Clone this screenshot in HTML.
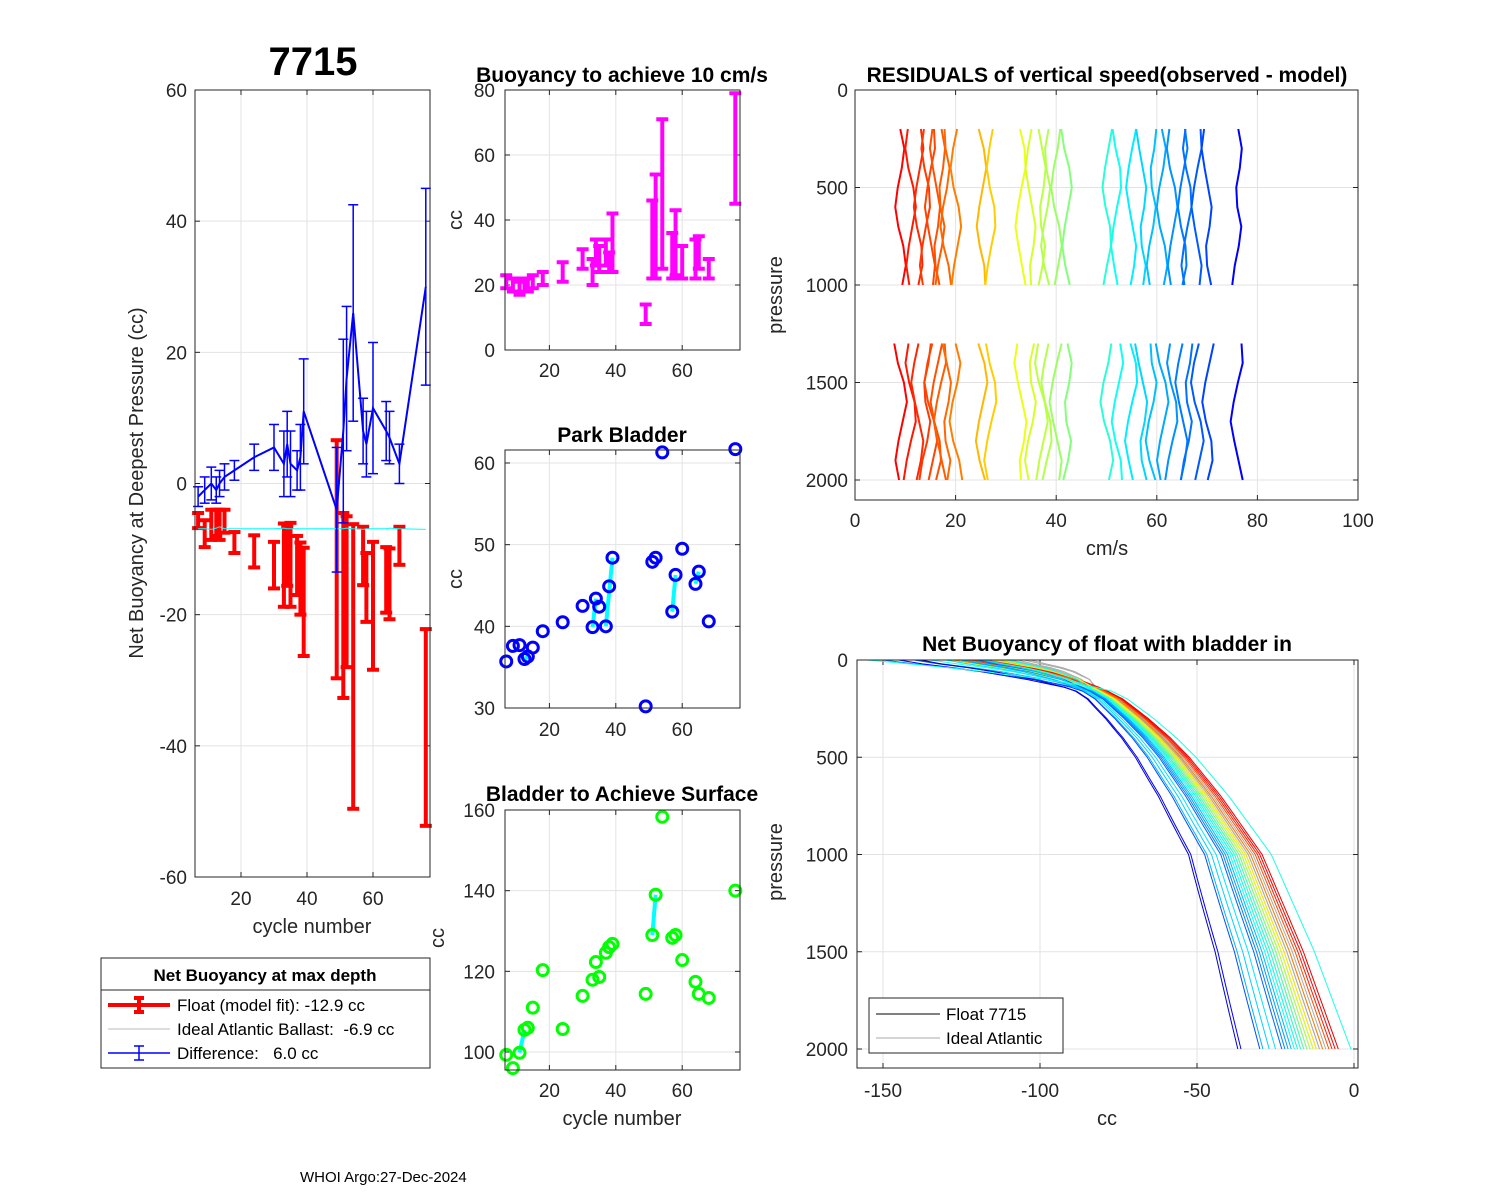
<!DOCTYPE html>
<html><head><meta charset="utf-8"><style>
html,body{margin:0;padding:0;background:#fff;}
svg{display:block;font-family:"Liberation Sans",Arial,sans-serif;}
</style></head><body>
<svg id="fig" width="1500" height="1200" viewBox="0 0 1500 1200" xmlns="http://www.w3.org/2000/svg">
<rect width="1500" height="1200" fill="#fff"/>
<text x="313" y="75" font-size="40" font-weight="bold" text-anchor="middle">7715</text>
<text x="622" y="82" font-size="21" font-weight="bold" text-anchor="middle">Buoyancy to achieve 10 cm/s</text>
<text x="622" y="442" font-size="21" font-weight="bold" text-anchor="middle">Park Bladder</text>
<text x="622" y="801" font-size="21" font-weight="bold" text-anchor="middle">Bladder to Achieve Surface</text>
<text x="1107" y="82" font-size="21" font-weight="bold" text-anchor="middle">RESIDUALS of vertical speed(observed - model)</text>
<text x="1107" y="651" font-size="21" font-weight="bold" text-anchor="middle">Net Buoyancy of float with bladder in</text>
<text x="300" y="1182" font-size="15">WHOI Argo:27-Dec-2024</text>
<g id="layer"></g>
</svg>
<script>
// ---- data ----
const cycles = [7,9,11,12.5,13.5,15,18,24,30,33,34,35,37,38,39,49,51,52,54,57,58,60,64,65,68,76];
const redHi = [-4.5,-5.6,-4,-4,-4,-4,-7.4,-7.9,-8.9,-6.1,-6.6,-6,-8,-9,-9.8,6.6,-4.5,-5,-6.2,-6.6,-10.6,-8.9,-9.7,-9.9,-6.6,-22.2];
const redLo = [-6.8,-9.7,-8.6,-8,-8.6,-7.5,-10.6,-12.8,-16,-18.8,-15.6,-18.8,-17,-20,-26.3,-29.7,-32.7,-28,-49.6,-15.5,-21.1,-28.4,-19.7,-20.7,-12.4,-52.2];
const idealVals = [-6.9,-6.9,-7,-6.8,-6.6,-6.9,-6.9,-6.9,-6.9,-6.8,-6.9,-6.9,-6.9,-6.9,-6.9,-6.9,-6.9,-6.8,-6.9,-7,-6.9,-6.9,-6.9,-6.8,-6.9,-7];
const diffVals = [-2,-1,0,-1,0,1,2,4,5.5,3,6,3,2,4,11,-4,8,16,26,8,6,11.5,8,7,3,30];
const diffErr = [1.5,2,2.5,2,2,2,1.5,2,3.5,5,5,5,3,5,8,9.5,14,11,16.5,5,5,10,4.5,4,3,15];
const buoyVals = [21,20,19,20,20,21,22,24,28,24,30,28,30,27,33,11,34,38,48,29,33,27,28,30,25,62];
const buoyErr = [2,2,2,2,2,2,2,3,3,4,4,4,4,3,9,3,12,16,23,7,10,5,6,5,3,17];
const parkVals = [35.7,37.6,37.7,36,36.3,37.4,39.4,40.5,42.5,39.9,43.4,42.4,40,44.9,48.4,30.2,47.9,48.4,61.3,41.8,46.3,49.5,45.2,46.7,40.6,61.7];
const parkLinks = [[3,4],[9,10],[12,14],[19,20],[22,23]];
const surfVals = [99.3,96,99.8,105.5,106,111,120.3,105.7,113.9,117.9,122.3,118.6,124.6,126,126.8,114.4,129,139,158.3,128.3,129,122.8,117.4,114.4,113.4,140];
const surfLinks = [[2,3],[16,17]];
const resSpeeds = [9,11,12.5,14,15,16,17,18,20,25,27,33,35,37,38,40,42,50,52,55,57,59,61,63,65,66,68,70,76];
const resWiggle = [0,0.8,0.3,-0.5,-1.0,-0.4,0.6,1.1,0.4,-0.3,-0.8,-0.2,0.7,0.9,0.1,-0.6,-1.1,-0.5,0.2,0.9,0.5,-0.2];
const nbEnds = [-6,-5,-7,-8,-10,-12,-13,-14,-15,-16,-17,-18,-19,-20,-21,-22,-23,-25,-27,-29,-30,-37,-36,-1];
const nbColorT = [0.88,0.9,0.85,0.8,0.75,0.65,0.6,0.55,0.5,0.45,0.42,0.4,0.38,0.3,0.28,0.25,0.22,0.35,0.33,0.3,0.2,0.08,0.12,0.4];
const nbStart = [-125,-120,-118,-122,-128,-115,-130,-112,-125,-120,-135,-118,-110,-140,-125,-150,-120,-130,-118,-125,-140,-138,-145,-155];
const idealEnds = [-9,-10,-11,-12,-13,-14,-15,-16,-17,-18,-11,-13];
const tmplP = [0,50,100,150,200,300,400,500,700,1000,1500,2000];
const tmplX = [-120,-100,-88,-80,-74,-66,-59,-53,-43,-30,-17,-6];

// ---- helpers ----
const NS = "http://www.w3.org/2000/svg";
const layer = document.getElementById('layer');
function el(tag, attrs, parent){ const e=document.createElementNS(NS,tag); for(const k in attrs) e.setAttribute(k,attrs[k]); (parent||layer).appendChild(e); return e; }
function lin(d0,d1,r0,r1){ return v=> r0+(v-d0)*(r1-r0)/(d1-d0); }
function jet(t){ t=Math.max(0,Math.min(1,t)); const r=Math.max(0,Math.min(1,1.5-Math.abs(4*t-3))), g=Math.max(0,Math.min(1,1.5-Math.abs(4*t-2))), b=Math.max(0,Math.min(1,1.5-Math.abs(4*t-1))); return `rgb(${Math.round(r*255)},${Math.round(g*255)},${Math.round(b*255)})`; }

function axes(name, x0,y0,x1,y1, sx, sy, xt, yt, xfmt, yfmt, labY, labX){
  const g = el('g',{});
  
  
  xt.forEach(v=>{ const x=sx(v); el('line',{x1:x,y1:y0,x2:x,y2:y1,stroke:'#e3e3e3','stroke-width':1},g);
    el('line',{x1:x,y1:y1,x2:x,y2:y1-5,stroke:'#262626'},g); el('line',{x1:x,y1:y0,x2:x,y2:y0+5,stroke:'#262626'},g);
    const t=el('text',{x:x,y:labY,'font-size':19,'text-anchor':'middle',fill:'#262626'},g); t.textContent=xfmt(v);
      });
  yt.forEach(v=>{ const y=sy(v); el('line',{x1:x0,y1:y,x2:x1,y2:y,stroke:'#e3e3e3'},g);
    el('line',{x1:x0,y1:y,x2:x0+5,y2:y,stroke:'#262626'},g); el('line',{x1:x1,y1:y,x2:x1-5,y2:y,stroke:'#262626'},g);
    const t=el('text',{x:labX,y:y+7,'font-size':19,'text-anchor':'end',fill:'#262626'},g); t.textContent=yfmt(v);
      });
  return g;
}
function box(x0,y0,x1,y1){ const r=el('rect',{x:x0,y:y0,width:x1-x0,height:y1-y0,fill:'none',stroke:'#262626','stroke-width':1});   }
function label(txt,x,y,rot,name){ const t=el('text',{x:x,y:y,'font-size':20,'text-anchor':'middle',fill:'#262626',transform:rot?`rotate(-90 ${x} ${y})`:''}); t.textContent=txt;   }
function ebar(x,yHi,yLo,col,w,cap,name){ const g=el('g',{stroke:col,'stroke-width':w});
   
  el('line',{x1:x,y1:yHi,x2:x,y2:yLo},g); el('line',{x1:x-cap,y1:yHi,x2:x+cap,y2:yHi},g); el('line',{x1:x-cap,y1:yLo,x2:x+cap,y2:yLo},g); }
const id = v=>String(v);

// ---- Panel 1 ----
const p1x = lin(0,100,175,505), p1y = lin(0,60,483.5,90);
axes('net-buoyancy-axes',195,90,430,877,p1x,p1y,[20,40,60],[60,40,20,0,-20,-40,-60],id,id,905,187);
cycles.forEach((c,i)=>ebar(p1x(c),p1y(redHi[i]),p1y(redLo[i]),'#ff0000',4,6,'float-errorbar'));
{ const pl=el('polyline',{points:cycles.map((c,i)=>p1x(c)+','+p1y(idealVals[i])).join(' '),fill:'none',stroke:'#00ffff','stroke-width':1});
    }
cycles.forEach((c,i)=>ebar(p1x(c),p1y(diffVals[i]+diffErr[i]),p1y(diffVals[i]-diffErr[i]),'#0000ff',1.5,5,'difference-errorbar'));
{ const pl=el('polyline',{points:cycles.map((c,i)=>p1x(c)+','+p1y(diffVals[i])).join(' '),fill:'none',stroke:'#0000ff','stroke-width':2});
    }
box(195,90,430,877);
label('cycle number',312,933,false,'x-axis-title');
label('Net Buoyancy at Deepest Pressure (cc)',143,483,true,'y-axis-title');

// legend 1
{ const g=el('g',{});  
  el('rect',{x:101,y:958,width:329,height:110,fill:'#fff',stroke:'#262626'},g);
  el('line',{x1:101,y1:990,x2:430,y2:990,stroke:'#262626'},g);
  const t=el('text',{x:265,y:981,'font-size':17,'font-weight':'bold','text-anchor':'middle'},g); t.textContent='Net Buoyancy at max depth';
  const rows=[['Float (model fit): -12.9 cc','#ff0000',4,1005],['Ideal Atlantic Ballast:  -6.9 cc','#bbbbbb',1,1029],['Difference:   6.0 cc','#0000ff',1.5,1053]];
  rows.forEach(r=>{ const e=el('g',{},g);  
    el('line',{x1:108,y1:r[3],x2:170,y2:r[3],stroke:r[1],'stroke-width':r[2]},e);
    if(r[2]!==1){ el('line',{x1:139,y1:r[3]-7,x2:139,y2:r[3]+7,stroke:r[1],'stroke-width':r[2]},e); el('line',{x1:134,y1:r[3]-7,x2:144,y2:r[3]-7,stroke:r[1],'stroke-width':r[2]},e); el('line',{x1:134,y1:r[3]+7,x2:144,y2:r[3]+7,stroke:r[1],'stroke-width':r[2]},e);}
    const tt=el('text',{x:177,y:r[3]+6,'font-size':17,'xml:space':'preserve'},e); tt.textContent=r[0]; tt.setAttribute('style','white-space:pre'); });
}

// ---- Panel 2 ----
const px = lin(0,100,483,815);
const p2y = lin(0,80,350,90);
axes('buoyancy-axes',505,90,740,350,px,p2y,[20,40,60],[0,20,40,60,80],id,id,377,495);
cycles.forEach((c,i)=>ebar(px(c),p2y(buoyVals[i]+buoyErr[i]),p2y(buoyVals[i]-buoyErr[i]),'#ff00ff',4,6,'buoyancy-errorbar'));
box(505,90,740,350);
label('cc',462,220,true,'y-axis-title');

// ---- Panel 3 ----
const p3y = lin(30,60,708,463);
axes('park-bladder-axes',505,450,740,708,px,p3y,[20,40,60],[30,40,50,60],id,id,736,495);
parkLinks.forEach(l=>{ const e=el('line',{x1:px(cycles[l[0]]),y1:p3y(parkVals[l[0]]),x2:px(cycles[l[1]]),y2:p3y(parkVals[l[1]]),stroke:'#00ffff','stroke-width':4});
    });
cycles.forEach((c,i)=>{ const e=el('circle',{cx:px(c),cy:p3y(parkVals[i]),r:5.5,fill:'none',stroke:'#0000ff','stroke-width':3});
    });
box(505,450,740,708);
label('cc',462,579,true,'y-axis-title');

// ---- Panel 4 ----
const p4y = lin(100,160,1052,810);
axes('surface-bladder-axes',505,810,740,1070,px,p4y,[20,40,60],[100,120,140,160],id,id,1097,495);
surfLinks.forEach(l=>{ const e=el('line',{x1:px(cycles[l[0]]),y1:p4y(surfVals[l[0]]),x2:px(cycles[l[1]]),y2:p4y(surfVals[l[1]]),stroke:'#00ffff','stroke-width':4});
    });
cycles.forEach((c,i)=>{ const e=el('circle',{cx:px(c),cy:p4y(surfVals[i]),r:5.5,fill:'none',stroke:'#00ff00','stroke-width':3});
    });
box(505,810,740,1070);
label('cc',444,938,true,'y-axis-title');
label('cycle number',622,1125,false,'x-axis-title');

// ---- Panel 5 ----
const p5x = lin(0,100,855,1358), p5y = lin(0,2000,90,480);
axes('residuals-axes',855,90,1358,500,p5x,p5y,[0,20,40,60,80,100],[0,500,1000,1500,2000],id,id,527,848);
resSpeeds.forEach((v,i)=>{ const col=jet(0.1+(78-v)/69*0.775);
  const up=[], lo=[];
  for(let k=0;k<9;k++){ const p=200+k*100; up.push(p5x(v+resWiggle[(i*3+k)%resWiggle.length])+','+p5y(p)); }
  for(let k=0;k<8;k++){ const p=1300+k*100; lo.push(p5x(v+resWiggle[(i*5+k+4)%resWiggle.length]*1.2)+','+p5y(p)); }
  const a=el('polyline',{points:up.join(' '),fill:'none',stroke:col,'stroke-width':2});
   
  const b=el('polyline',{points:lo.join(' '),fill:'none',stroke:col,'stroke-width':2});
    });
box(855,90,1358,500);
label('cm/s',1107,555,false,'x-axis-title');
label('pressure',782,295,true,'y-axis-title');

// ---- Panel 6 ----
const p6x = lin(-150,0,883,1354), p6y = lin(0,2000,660,1049);
axes('net-buoyancy-profile-axes',857,660,1358,1068,p6x,p6y,[-150,-100,-50,0],[0,500,1000,1500,2000],id,id,1097,848);
function tmpl(p){ for(let k=1;k<tmplP.length;k++){ if(p<=tmplP[k]){ const f=(p-tmplP[k-1])/(tmplP[k]-tmplP[k-1]); return tmplX[k-1]+f*(tmplX[k]-tmplX[k-1]); } } return tmplX[tmplX.length-1]; }
function curve(end,start){ const pts=[]; for(let p=0;p<=2000;p+=20){ let x=tmpl(p)+(end+6)*Math.pow(p/2000,0.45); if(p<150) x+=(start+120)*(1-p/150); pts.push(p6x(x)+','+p6y(p)); } return pts.join(' '); }
idealEnds.forEach((e,i)=>{ const c=el('polyline',{points:curve(e,-125+i*2),fill:'none',stroke:'#aaaaaa','stroke-width':1});
    });
nbEnds.forEach((e,i)=>{ const c=el('polyline',{points:curve(e,nbStart[i]),fill:'none',stroke:jet(nbColorT[i]),'stroke-width':1});
    });
box(857,660,1358,1068);
label('cc',1107,1125,false,'x-axis-title');
label('pressure',782,862,true,'y-axis-title');
{ const g=el('g',{});  
  el('rect',{x:869,y:998,width:194,height:55,fill:'#fff',stroke:'#262626'},g);
  el('line',{x1:876,y1:1014,x2:940,y2:1014,stroke:'#000'},g);
  el('line',{x1:876,y1:1038,x2:940,y2:1038,stroke:'#aaaaaa'},g);
  const a=el('text',{x:946,y:1020,'font-size':17},g); a.textContent='Float 7715';
  const b=el('text',{x:946,y:1044,'font-size':17},g); b.textContent='Ideal Atlantic'; }
</script>
</body></html>
